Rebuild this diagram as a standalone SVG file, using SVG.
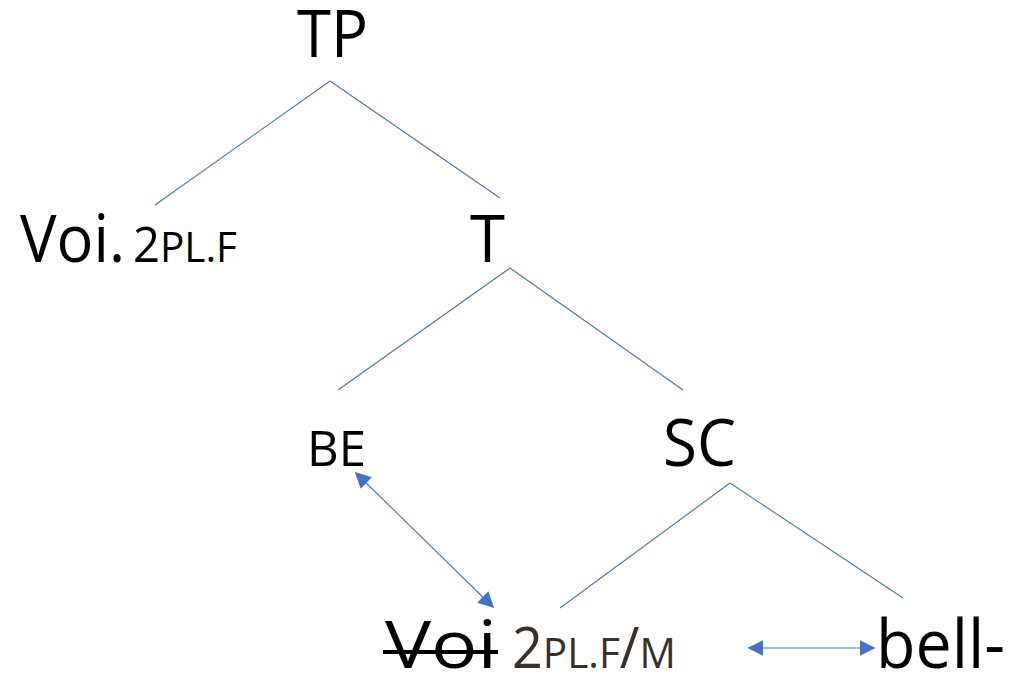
<svg xmlns="http://www.w3.org/2000/svg" width="1010" height="678" viewBox="0 0 1010 678">
<defs>
<style>
text{font-family:"Open Sans","Noto Sans",sans-serif;fill:#000}
.l{stroke:#4472C4;stroke-width:1.1;fill:none}
.a{stroke:#4472C4;stroke-width:1.1;fill:none;marker-start:url(#ah);marker-end:url(#ah)}
</style>
<marker id="ah" viewBox="0 0 10 10" refX="9" refY="5" markerWidth="16" markerHeight="16" markerUnits="userSpaceOnUse" orient="auto-start-reverse">
<path d="M0,0 L10,5 L0,10 Z" fill="#4472C4"/>
</marker>
</defs>
<rect width="1010" height="678" fill="#fff"/>
<g id="connectors">
<line class="l" x1="330" y1="81" x2="155" y2="205"/>
<line class="l" x1="330" y1="81" x2="500" y2="198"/>
<line class="l" x1="510" y1="268" x2="338" y2="390"/>
<line class="l" x1="510" y1="268" x2="683" y2="390"/>
<line class="l" x1="730" y1="483" x2="560" y2="608"/>
<line class="l" x1="730" y1="483" x2="903" y2="598"/>
<line class="a" x1="356" y1="473" x2="493" y2="607"/>
<line class="a" x1="749" y1="648" x2="874" y2="648"/>
</g>
<g id="TP"><text x="297" y="57" font-size="66" textLength="71" lengthAdjust="spacingAndGlyphs">TP</text></g>
<g id="Voi2PLF"><text x="20" y="262" font-size="66" textLength="105" lengthAdjust="spacingAndGlyphs">Voi.</text><text x="133" y="262" textLength="104" lengthAdjust="spacingAndGlyphs"><tspan font-size="49">2</tspan><tspan font-size="42">PL.F</tspan></text></g>
<g id="T"><text x="470" y="262" font-size="66" textLength="35" lengthAdjust="spacingAndGlyphs">T</text></g>
<g id="BE"><text x="307" y="466" font-size="50" textLength="59" lengthAdjust="spacingAndGlyphs">BE</text></g>
<g id="SC"><text x="663" y="466" font-size="66" textLength="73" lengthAdjust="spacingAndGlyphs">SC</text></g>
<g id="Voi"><text x="385" y="668" font-size="66" textLength="112" lengthAdjust="spacingAndGlyphs">Voi</text><line x1="383" y1="652" x2="498" y2="652" stroke="#000" stroke-width="4"/><text x="512" y="668" textLength="164" lengthAdjust="spacingAndGlyphs" style="fill:#3B3028"><tspan font-size="56">2</tspan><tspan font-size="42">PL.F</tspan><tspan font-size="56">/</tspan><tspan font-size="42">M</tspan></text></g>
<g id="bell"><text x="876" y="668" font-size="68" textLength="129" lengthAdjust="spacingAndGlyphs">bell-</text></g>
</svg>
